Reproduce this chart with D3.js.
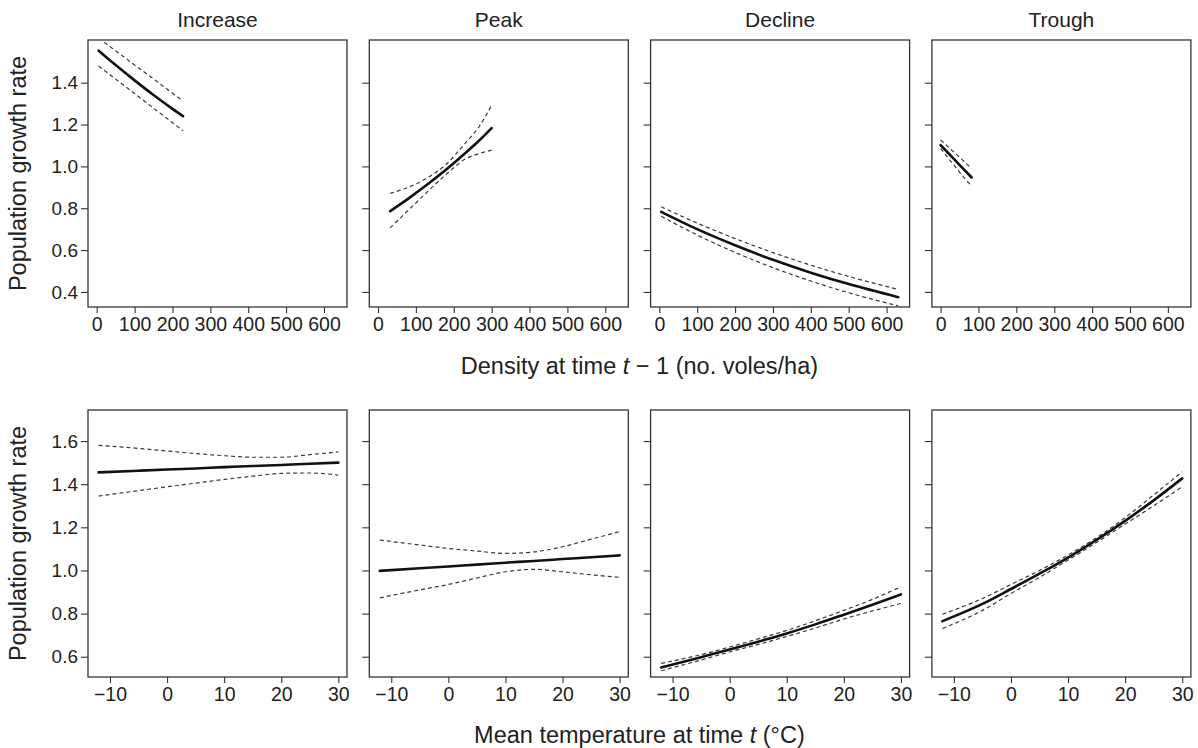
<!DOCTYPE html>
<html>
<head>
<meta charset="utf-8">
<script src="https://cdnjs.cloudflare.com/ajax/libs/d3/7.8.5/d3.min.js"></script>
<style>
  html, body { margin: 0; padding: 0; background: #fff; }
  svg { display: block; }
  text { font-family: "Liberation Sans", Arial, Helvetica, sans-serif; fill: #222; }
</style>
</head>
<body>
<svg id="chart" width="1198" height="748"></svg>
<script>
// ---------------- DATA ----------------
const stages = ["Increase", "Peak", "Decline", "Trough"];

const densityTicks = [0, 100, 200, 300, 400, 500, 600];
const densityYTicks = [0.4, 0.6, 0.8, 1.0, 1.2, 1.4];
const tempTicks = [-10, 0, 10, 20, 30];
const tempYTicks = [0.6, 0.8, 1.0, 1.2, 1.4, 1.6];

// Density panels (top row)
const incDensX    = [5, 50, 100, 150, 200, 228];
const incDensFit  = [1.553, 1.484, 1.411, 1.341, 1.275, 1.24];
const incDensHiX  = [20, 60, 100, 150, 200, 227];
const incDensHi   = [1.593, 1.539, 1.485, 1.418, 1.35, 1.314];
const incDensLo   = [1.48, 1.417, 1.348, 1.278, 1.209, 1.17];

const peakDensX   = [32, 80, 130, 180, 230, 265, 300];
const peakDensFit = [0.786, 0.846, 0.913, 0.985, 1.063, 1.12, 1.183];
const peakDensHi  = [0.871, 0.9, 0.945, 1.01, 1.11, 1.185, 1.292];
const peakDensLo  = [0.706, 0.79, 0.878, 0.962, 1.035, 1.06, 1.078];

const decDensX    = [5, 100, 200, 300, 400, 500, 631];
const decDensFit  = [0.783, 0.700, 0.623, 0.5535, 0.492, 0.4375, 0.375];
const decDensHi   = [0.807, 0.729, 0.655, 0.588, 0.528, 0.474, 0.412];
const decDensLo   = [0.762, 0.672, 0.589, 0.516, 0.452, 0.396, 0.333];

const troDensX    = [0, 20, 40, 60, 82];
const troDensFit  = [1.102, 1.064, 1.026, 0.988, 0.947];
const troDensHi   = [1.126, 1.093, 1.06, 1.027, 0.99];
const troDensLo   = [1.085, 1.04, 0.995, 0.95, 0.906];

// Temperature panels (bottom row)
const tempX       = [-12, -5, 0, 5, 10, 15, 20, 25, 30];
const incTempFit  = [1.455, 1.4625, 1.468, 1.473, 1.479, 1.484, 1.489, 1.495, 1.50];
const incTempHi   = [1.58, 1.566, 1.554, 1.542, 1.532, 1.525, 1.525, 1.537, 1.55];
const incTempLo   = [1.345, 1.37, 1.388, 1.405, 1.422, 1.437, 1.45, 1.452, 1.442];

const peakTempFit = [0.998, 1.010, 1.0186, 1.027, 1.036, 1.044, 1.053, 1.061, 1.070];
const peakTempHi  = [1.141, 1.118, 1.102, 1.09, 1.079, 1.086, 1.11, 1.145, 1.18];
const peakTempLo  = [0.873, 0.91, 0.935, 0.965, 0.994, 1.005, 0.994, 0.98, 0.968];

const decTempFit  = [0.55, 0.598, 0.633, 0.670, 0.708, 0.750, 0.795, 0.841, 0.889];
const decTempHi   = [0.569, 0.61, 0.645, 0.683, 0.722, 0.767, 0.815, 0.866, 0.924];
const decTempLo   = [0.535, 0.585, 0.622, 0.657, 0.694, 0.733, 0.775, 0.812, 0.847];

const troTempFit  = [0.765, 0.845, 0.914, 0.985, 1.060, 1.142, 1.230, 1.325, 1.427];
const troTempHi   = [0.797, 0.87, 0.935, 1.0, 1.072, 1.152, 1.245, 1.35, 1.458];
const troTempLo   = [0.731, 0.815, 0.893, 0.968, 1.048, 1.13, 1.215, 1.3, 1.388];

// ---------------- LAYOUT ----------------
const panelLeft0 = 88, panelW = 259, panelGap = 22.3;
const rows = [
  { top: 40, bottom: 307, xDomain: [-23, 660.8], yDomain: [0.328, 1.604],
    xTicks: densityTicks, yTicks: densityYTicks, xFmt: d3.format("d"),
    title: ["Density at time ", "t", " \u2212 1 (no. voles/ha)"], titleY: 374,
    series: [
      { fitX: incDensX, fit: incDensFit, hiX: incDensHiX, hi: incDensHi, loX: incDensX, lo: incDensLo },
      { fitX: peakDensX, fit: peakDensFit, hiX: peakDensX, hi: peakDensHi, loX: peakDensX, lo: peakDensLo },
      { fitX: decDensX, fit: decDensFit, hiX: decDensX, hi: decDensHi, loX: decDensX, lo: decDensLo },
      { fitX: troDensX, fit: troDensFit, hiX: troDensX, hi: troDensHi, loX: troDensX, lo: troDensLo }
    ] },
  { top: 410, bottom: 677, xDomain: [-13.85, 31.52], yDomain: [0.506, 1.744],
    xTicks: tempTicks, yTicks: tempYTicks, xFmt: d3.format("d"),
    title: ["Mean temperature at time ", "t", " (\u00B0C)"], titleY: 743,
    series: [
      { fitX: tempX, fit: incTempFit, hiX: tempX, hi: incTempHi, loX: tempX, lo: incTempLo },
      { fitX: tempX, fit: peakTempFit, hiX: tempX, hi: peakTempHi, loX: tempX, lo: peakTempLo },
      { fitX: tempX, fit: decTempFit, hiX: tempX, hi: decTempHi, loX: tempX, lo: decTempLo },
      { fitX: tempX, fit: troTempFit, hiX: tempX, hi: troTempHi, loX: tempX, lo: troTempLo }
    ] }
];

const svg = d3.select("#chart");
const frameColor = "#333";

// stage titles
stages.forEach((s, i) => {
  const left = panelLeft0 + i * (panelW + panelGap);
  svg.append("text")
    .attr("x", left + panelW / 2).attr("y", 27)
    .attr("text-anchor", "middle")
    .style("font-size", "21px")
    .text(s);
});

rows.forEach((row, r) => {
  const y = d3.scaleLinear().domain(row.yDomain).range([row.bottom, row.top]);
  row.series.forEach((ser, i) => {
    const left = panelLeft0 + i * (panelW + panelGap);
    const x = d3.scaleLinear().domain(row.xDomain).range([left, left + panelW]);
    const g = svg.append("g");

    // x axis
    const xa = g.append("g").attr("transform", `translate(0,${row.bottom})`)
      .call(d3.axisBottom(x).tickValues(row.xTicks).tickFormat(row.xFmt).tickSize(6).tickPadding(4));
    xa.select(".domain").remove();
    xa.selectAll("line").attr("stroke", frameColor).attr("stroke-width", 1.1);
    xa.selectAll("text").style("font-size", "19.5px").attr("fill", "#222").attr("font-family", null);

    // y axis
    const ya = g.append("g").attr("transform", `translate(${left},0)`)
      .call(d3.axisLeft(y).tickValues(row.yTicks).tickFormat(d3.format(".1f")).tickSize(7).tickPadding(3));
    ya.select(".domain").remove();
    ya.selectAll("line").attr("stroke", frameColor).attr("stroke-width", 1.1);
    ya.selectAll("text").style("font-size", "19px").attr("fill", "#222").attr("font-family", null);
    if (i > 0) ya.selectAll("text").remove();

    // frame
    g.append("rect")
      .attr("x", left).attr("y", row.top)
      .attr("width", panelW).attr("height", row.bottom - row.top)
      .attr("fill", "none").attr("stroke", frameColor).attr("stroke-width", 1.3);

    const mk = (xs, ys) => xs.map((v, k) => [v, ys[k]]);
    const line = d3.line().x(d => x(d[0])).y(d => y(d[1])).curve(d3.curveMonotoneX);

    // CI dashed
    [mk(ser.hiX, ser.hi), mk(ser.loX, ser.lo)].forEach(pts => {
      g.append("path").attr("d", line(pts))
        .attr("fill", "none").attr("stroke", "#3a3a3a").attr("stroke-width", 1.2)
        .attr("stroke-dasharray", "4,3");
    });
    // fit solid
    g.append("path").attr("d", line(mk(ser.fitX, ser.fit)))
      .attr("fill", "none").attr("stroke", "#111").attr("stroke-width", 2.6)
      .attr("stroke-linecap", "round");
  });

  // y axis title
  svg.append("text")
    .attr("transform", `translate(26,${(row.top + row.bottom) / 2}) rotate(-90)`)
    .attr("text-anchor", "middle")
    .style("font-size", "23.5px")
    .text("Population growth rate");

  // x axis title
  const xt = svg.append("text")
    .attr("x", panelLeft0 + (4 * panelW + 3 * panelGap) / 2)
    .attr("y", row.titleY)
    .attr("text-anchor", "middle")
    .style("font-size", "23.5px");
  xt.append("tspan").text(row.title[0]);
  xt.append("tspan").style("font-style", "italic").text(row.title[1]);
  xt.append("tspan").text(row.title[2]);
});
</script>
</body>
</html>
